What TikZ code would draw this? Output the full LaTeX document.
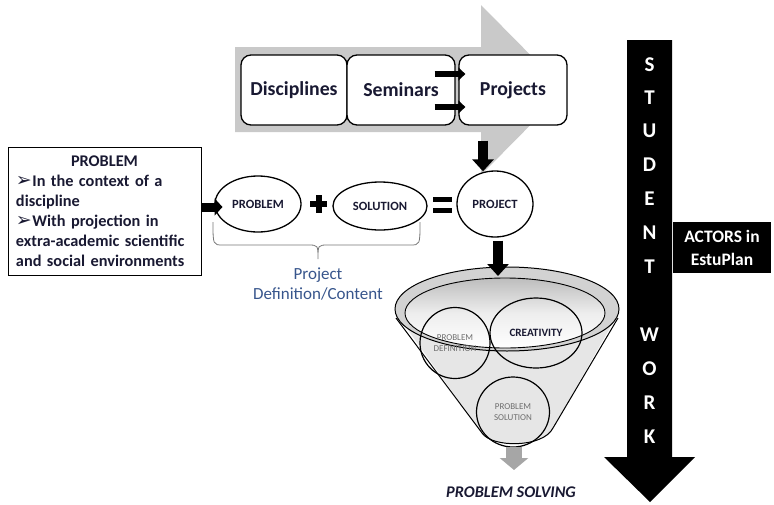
\documentclass[tikz,border=0pt]{standalone}
\usepackage{fontspec}
\setmainfont{Carlito}
\newfontfamily\djv{DejaVu Sans}
\usetikzlibrary{shapes.geometric,arrows.meta,calc}
\definecolor{arrowgray}{RGB}{201,201,201}
\definecolor{bluetxt}{RGB}{55,85,140}
\definecolor{funnelgray}{RGB}{230,230,230}
\definecolor{rimgray}{RGB}{210,210,210}
\definecolor{txtgray}{RGB}{110,110,110}
\definecolor{bracegray}{RGB}{120,120,120}
\definecolor{navytxt}{RGB}{25,25,50}
\definecolor{outgray}{RGB}{166,166,166}
\newcommand\bul{\raisebox{-0.5pt}{\djv\fontsize{19}{20}\selectfont ➢}\kern0.5pt}
\begin{document}
\begin{tikzpicture}[x=1pt,y=-1pt,
  roundbox/.style={draw, line width=1.3pt, rounded corners=10pt, fill=white, minimum height=70pt, text=navytxt, font=\fontsize{19.8}{22}\selectfont\bfseries, inner sep=0pt},
  oval/.style={ellipse, draw, line width=1.3pt, fill=white, inner sep=0pt, text=navytxt, font=\fontsize{12.6}{13}\selectfont\bfseries},
  bigarrow/.style={line width=10pt, -{Triangle[width=21pt,length=12pt]}},
  smallarrow/.style={line width=6pt, -{Triangle[width=13pt,length=7pt]}},
  vletter/.style={text=white, font=\fontsize{21}{22}\selectfont\bfseries, inner sep=0pt},
  ring/.style={ellipse, draw, line width=1.2pt, inner sep=0pt}
]
\useasboundingbox (0,0) rectangle (774,504);

% big gray arrow
\fill[arrowgray] (235,47) -- (481,47) -- (481,5) -- (565,90) -- (481,175) -- (481,132) -- (235,132) -- cycle;

% top boxes
\node[roundbox, minimum width=106pt] (disc) at (294,90) {Disciplines};
\node[roundbox, minimum width=108pt] (sem) at (401,90) {Seminars};
\node[roundbox, minimum width=108pt] (proj) at (513,90) {Projects};
\draw[smallarrow] ($(sem.east)+(-21,-16)$) -- ($(proj.west)+(7,-16)$);
\draw[smallarrow] ($(sem.east)+(-21,17)$) -- ($(proj.west)+(7,17)$);

% left problem box
\node[draw, line width=1pt, minimum width=193pt, minimum height=128pt, text width=177pt, inner xsep=8pt, inner ysep=4pt, align=left, text=navytxt, font=\fontsize{16.3}{20}\selectfont\bfseries] (pbox) at (104.5,211)
{{\centering PROBLEM\par}\raggedright\bul In the context of a\\discipline\\\bul With projection in\\extra-academic scientific\\and social environments};

% equation
\node[oval, minimum width=86pt, minimum height=56pt] (probE) at (258,204) {PROBLEM};
\node[oval, minimum width=94pt, minimum height=48pt] (solE) at (380,206) {SOLUTION};
\node[oval, minimum width=76pt, minimum height=66pt] (projE) at (495,204) {PROJECT};
\fill (310,201) rectangle (327,207);
\fill (315.5,195) rectangle (321.5,213);
\fill (433,197) rectangle (452,202);
\fill (433,208) rectangle (452,213);

\draw[line width=9pt, -{Triangle[width=17pt,length=8pt]}] ($(pbox.east)+(0,-4)$) -- ++(21,0);

% brace
\draw[bracegray, line width=0.8pt] (213,222) .. controls (213,245) .. (223,245) -- (308,245) .. controls (318,245) .. (318,259) .. controls (318,245) .. (328,245) -- (410,245) .. controls (420,245) .. (420,222);
\node[text=bluetxt, font=\fontsize{17}{20}\selectfont, align=center] (pdc) at (318,284.5) {Project\\Definition/Content};

% funnel
\fill[funnelgray] (395,312) -- (482,433) .. controls (492,448) and (543,448) .. (553,428) -- (619,312) -- cycle;
\draw[line width=1pt] (396,318) -- (482,433) .. controls (492,448) and (543,448) .. (553,428) -- (618,318);
\draw[line width=1pt, fill=rimgray] (507,309) ellipse [x radius=112pt, y radius=42pt];
\draw[line width=0.9pt, top color=rimgray!90!black, bottom color=white, middle color=rimgray!40] (505,313) ellipse [x radius=100pt, y radius=35pt];
\node[ring, minimum width=70pt, minimum height=71pt, text=txtgray, font=\fontsize{9}{10.5}\selectfont, align=center] (pdef) at (455,343) {PROBLEM\\DEFINITION};
\node[ring, minimum width=92pt, minimum height=70pt, text=navytxt, font=\fontsize{11.2}{12}\selectfont\bfseries] (crea) at (536,333) {CREATIVITY};
\node[ring, minimum width=73pt, minimum height=70pt, text=txtgray, font=\fontsize{9}{10.5}\selectfont, align=center] (psol) at (513,412) {PROBLEM\\SOLUTION};
\coordinate (fbot) at (514,447);
\coordinate (fout) at (514,470);
\draw[outgray, line width=16pt, -{Triangle[width=28pt,length=12pt]}] (fbot) -- (fout);
\node[text=navytxt, font=\fontsize{16.3}{18}\selectfont\bfseries\itshape] (ps) at (511,492) {PROBLEM SOLVING};

% vertical arrows
\coordinate (ftop) at (498,276);
\draw[bigarrow] ($(proj.south)+(-30,15)$) -- ($(projE.north)+(-12,1)$);
\draw[bigarrow] ($(projE.south)+(3,3)$) -- (ftop);

% student work arrow
\fill (627,40) -- (672,40) -- (672,457) -- (695,457) -- (650,502) -- (604,457) -- (627,457) -- cycle;
\foreach \l/\yy in {S/65,T/98,U/131,D/165,E/199,N/233,T/267,W/335,O/369,R/403,K/437}
  \node[vletter] (sw\yy) at (649.5,\yy) {\l};
\node[fill=black, minimum width=98pt, minimum height=51pt, text=white, align=center, font=\fontsize{17.5}{23}\selectfont\bfseries] (actors) at (722,247.5) {ACTORS in\\EstuPlan};
\end{tikzpicture}
\end{document}
